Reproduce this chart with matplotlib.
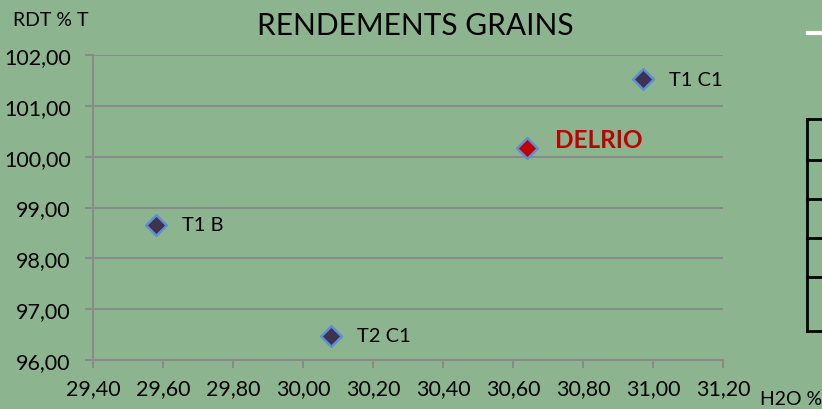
import matplotlib.pyplot as plt
from matplotlib.ticker import FuncFormatter, MultipleLocator

# données
noms = ['T1 C1', 'DELRIO', 'T1 B', 'T2 C1']
h2o = [30.97, 30.64, 29.58, 30.08]
rdt = [101.52, 100.17, 98.66, 96.48]

fond = '#8cb58f'
gris = '#8a8a8a'

plt.rcParams['font.family'] = ['Lato', 'DejaVu Sans']

fig = plt.figure(figsize=(8.22, 4.10), dpi=100)
fig.patch.set_facecolor(fond)
ax = fig.add_axes([93 / 822, 1 - 361 / 410, 630 / 822, 305 / 410])
ax.set_facecolor(fond)

for nom, x, y in zip(noms, h2o, rdt):
    if nom == 'DELRIO':
        ax.scatter(x, y, marker='D', s=110, color='#c00000', edgecolors='#5b8fd4',
                   linewidths=1.8, zorder=3)
        ax.annotate(nom, (x, y), xytext=(20, 6), textcoords='offset points',
                    color='#c00000', fontsize=17.5, fontweight='bold', va='center')
    else:
        ax.scatter(x, y, marker='D', s=110, color='#3f3151', edgecolors='#5b8fd4',
                   linewidths=1.8, zorder=3)
        ax.annotate(nom, (x, y), xytext=(19, 0), textcoords='offset points',
                    color='black', fontsize=14.5, va='center')

ax.set_xlim(29.4, 31.2)
ax.set_ylim(96, 102)
ax.xaxis.set_major_locator(MultipleLocator(0.2))
ax.yaxis.set_major_locator(MultipleLocator(1))
virgule = FuncFormatter(lambda v, p: f'{v:.2f}'.replace('.', ','))
ax.xaxis.set_major_formatter(virgule)
ax.yaxis.set_major_formatter(virgule)
ax.tick_params(axis='both', colors=gris, labelcolor='black', labelsize=15.5,
               length=6, width=1.5, direction='out')
ax.tick_params(axis='x', pad=7)
ax.tick_params(axis='y', pad=10)
ax.grid(axis='y', color=gris, linewidth=1.5)
ax.set_axisbelow(True)
for s in ['top', 'right']:
    ax.spines[s].set_visible(False)
for s in ['left', 'bottom']:
    ax.spines[s].set_color(gris)
    ax.spines[s].set_linewidth(1.5)

fig.text(415 / 822, 1 - 26 / 410, 'RENDEMENTS GRAINS', ha='center', va='center', fontsize=21.5)
fig.text(13 / 822, 1 - 20 / 410, 'RDT % T', ha='left', va='center', fontsize=14)
fig.text(760 / 822, 1 - 400 / 410, 'H2O %', ha='left', va='center', fontsize=14)

# morceau du tableau voisin, coupé au bord
lignes = [120, 161, 200, 239, 278, 332]
for y in lignes:
    fig.add_artist(plt.Line2D([807 / 822, 1], [1 - y / 410] * 2, color='black', lw=2))
fig.add_artist(plt.Line2D([807 / 822] * 2, [1 - 120 / 410, 1 - 332 / 410], color='black', lw=2))
fig.add_artist(plt.Line2D([808 / 822, 820 / 822], [1 - 34 / 410] * 2, color='white', lw=3))

fig.savefig('out.png', dpi=100, facecolor=fond)
